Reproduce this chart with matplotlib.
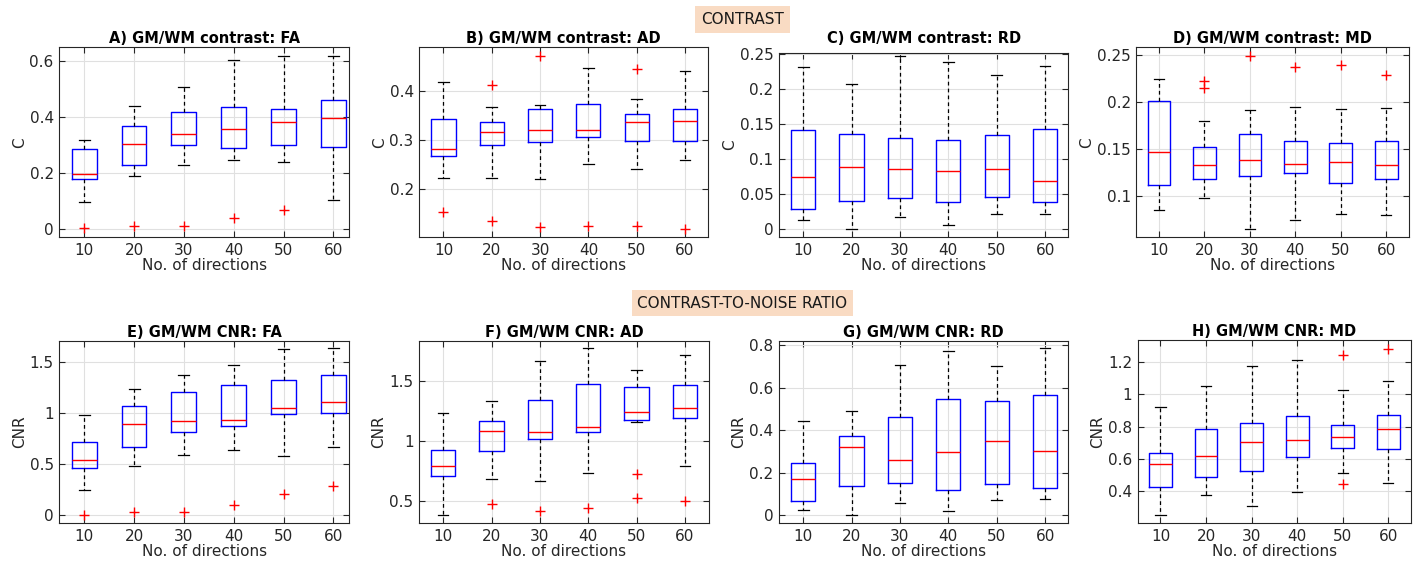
import matplotlib
matplotlib.use("Agg")
import matplotlib.pyplot as plt

plt.rcParams['font.family'] = ['DejaVu Sans']

directions = [10, 20, 30, 40, 50, 60]
xtick_labels = ['10', '20', '30', '40', '50', '60']

# ---- Panel data: lower whisker, q1, median, q3, upper whisker, outliers ----
A_lo  = [0.095, 0.190, 0.228, 0.245, 0.238, 0.103]
A_q1  = [0.179, 0.230, 0.300, 0.288, 0.300, 0.291]
A_med = [0.197, 0.302, 0.338, 0.357, 0.383, 0.395]
A_q3  = [0.285, 0.367, 0.416, 0.435, 0.428, 0.459]
A_hi  = [0.318, 0.440, 0.508, 0.605, 0.617, 0.617]
A_out = [[0.002], [0.010], [0.012], [0.038], [0.068], []]

B_lo  = [0.221, 0.222, 0.220, 0.251, 0.241, 0.258]
B_q1  = [0.266, 0.290, 0.295, 0.306, 0.297, 0.298]
B_med = [0.281, 0.317, 0.321, 0.320, 0.336, 0.338]
B_q3  = [0.342, 0.336, 0.363, 0.373, 0.353, 0.363]
B_hi  = [0.418, 0.367, 0.371, 0.447, 0.384, 0.441]
B_out = [[0.151], [0.413, 0.134], [0.473, 0.121], [0.124], [0.445, 0.124], [0.118]]

C_lo  = [0.0133, 0.0010, 0.0176, 0.0057, 0.0214, 0.0224]
C_q1  = [0.0295, 0.0400, 0.0448, 0.0386, 0.0467, 0.0390]
C_med = [0.0752, 0.0886, 0.0867, 0.0838, 0.0857, 0.0686]
C_q3  = [0.1414, 0.1367, 0.1310, 0.1276, 0.1352, 0.1438]
C_hi  = [0.2324, 0.2076, 0.2476, 0.2386, 0.2200, 0.2338]
C_out = [[], [], [], [], [], []]

D_lo  = [0.0858, 0.0979, 0.0656, 0.0748, 0.0812, 0.0801]
D_q1  = [0.1117, 0.1181, 0.1213, 0.1245, 0.1142, 0.1184]
D_med = [0.1468, 0.1333, 0.1390, 0.1344, 0.1365, 0.1330]
D_q3  = [0.2018, 0.1528, 0.1667, 0.1589, 0.1571, 0.1592]
D_hi  = [0.2252, 0.1801, 0.1918, 0.1950, 0.1929, 0.1936]
D_out = [[], [0.2223, 0.2149], [0.2493], [0.2376], [0.2394], [0.2291]]

E_lo  = [0.249, 0.485, 0.590, 0.639, 0.580, 0.668]
E_q1  = [0.459, 0.671, 0.812, 0.871, 0.993, 1.006]
E_med = [0.537, 0.894, 0.924, 0.930, 1.055, 1.107]
E_q3  = [0.721, 1.067, 1.208, 1.281, 1.330, 1.379]
E_hi  = [0.983, 1.235, 1.379, 1.474, 1.628, 1.638]
E_out = [[0.003], [0.030], [0.030], [0.100], [0.203], [0.282]]

F_lo  = [0.390, 0.682, 0.666, 0.732, 1.160, 0.793]
F_q1  = [0.707, 0.917, 1.014, 1.075, 1.174, 1.188]
F_med = [0.790, 1.080, 1.075, 1.119, 1.238, 1.271]
F_q3  = [0.923, 1.166, 1.343, 1.475, 1.445, 1.467]
F_hi  = [1.232, 1.329, 1.660, 1.768, 1.591, 1.713]
F_out = [[], [0.475], [0.417], [0.448], [0.724, 0.525], [0.503]]

G_lo  = [0.023, 0.003, 0.058, 0.019, 0.074, 0.077]
G_q1  = [0.069, 0.138, 0.150, 0.117, 0.146, 0.130]
G_med = [0.169, 0.319, 0.261, 0.297, 0.348, 0.304]
G_q3  = [0.246, 0.375, 0.463, 0.545, 0.539, 0.564]
G_hi  = [0.445, 0.490, 0.708, 0.772, 0.700, 0.784]
G_out = [[], [], [], [], [], []]

H_lo  = [0.256, 0.375, 0.307, 0.398, 0.511, 0.449]
H_q1  = [0.425, 0.491, 0.528, 0.612, 0.670, 0.660]
H_med = [0.567, 0.621, 0.707, 0.715, 0.736, 0.784]
H_q3  = [0.639, 0.783, 0.821, 0.864, 0.810, 0.875]
H_hi  = [0.924, 1.052, 1.175, 1.214, 1.025, 1.085]
H_out = [[], [], [], [], [1.241, 0.447], [1.282]]

titles = ['A) GM/WM contrast: FA', 'B) GM/WM contrast: AD',
          'C) GM/WM contrast: RD', 'D) GM/WM contrast: MD',
          'E) GM/WM CNR: FA', 'F) GM/WM CNR: AD',
          'G) GM/WM CNR: RD', 'H) GM/WM CNR: MD']
ylabels = ['C', 'C', 'C', 'C', 'CNR', 'CNR', 'CNR', 'CNR']

A_ticks = [0, 0.2, 0.4, 0.6];           A_tlab = ['0', '0.2', '0.4', '0.6']
B_ticks = [0.2, 0.3, 0.4];              B_tlab = ['0.2', '0.3', '0.4']
C_ticks = [0, 0.05, 0.1, 0.15, 0.2, 0.25]; C_tlab = ['0', '0.05', '0.1', '0.15', '0.2', '0.25']
D_ticks = [0.1, 0.15, 0.2, 0.25];       D_tlab = ['0.1', '0.15', '0.2', '0.25']
E_ticks = [0, 0.5, 1, 1.5];             E_tlab = ['0', '0.5', '1', '1.5']
F_ticks = [0.5, 1, 1.5];                F_tlab = ['0.5', '1', '1.5']
G_ticks = [0, 0.2, 0.4, 0.6, 0.8];      G_tlab = ['0', '0.2', '0.4', '0.6', '0.8']
H_ticks = [0.4, 0.6, 0.8, 1, 1.2];      H_tlab = ['0.4', '0.6', '0.8', '1', '1.2']

panels = [
    (A_lo, A_q1, A_med, A_q3, A_hi, A_out, A_ticks, A_tlab),
    (B_lo, B_q1, B_med, B_q3, B_hi, B_out, B_ticks, B_tlab),
    (C_lo, C_q1, C_med, C_q3, C_hi, C_out, C_ticks, C_tlab),
    (D_lo, D_q1, D_med, D_q3, D_hi, D_out, D_ticks, D_tlab),
    (E_lo, E_q1, E_med, E_q3, E_hi, E_out, E_ticks, E_tlab),
    (F_lo, F_q1, F_med, F_q3, F_hi, F_out, F_ticks, F_tlab),
    (G_lo, G_q1, G_med, G_q3, G_hi, G_out, G_ticks, G_tlab),
    (H_lo, H_q1, H_med, H_q3, H_hi, H_out, H_ticks, H_tlab),
]

# layout (pixels: left, right, top, bottom) and axis limits
W, H = 1418, 565
boxes_px = [(59.3, 349.3, 47.3, 237.3), (419.3, 707.7, 47.3, 237.3),
            (779.0, 1068.3, 52.7, 237.3), (1136.3, 1409.0, 47.3, 237.3),
            (59.3, 349.3, 341.0, 523.0), (419.0, 709.0, 341.0, 523.0),
            (779.0, 1068.3, 341.0, 523.0), (1137.7, 1410.7, 340.3, 523.0)]
title_pads = [3, 3, 7, 3, 3, 3, 3, 3]
ylims = [(-0.030, 0.649), (0.100, 0.490), (-0.0114, 0.2524), (0.0564, 0.2585),
         (-0.079, 1.71), (0.32, 1.829), (-0.036, 0.819), (0.204, 1.334)]
xlims = [(0.5, 6.32), (0.5, 6.47), (0.5, 6.48), (0.5, 6.5),
         (0.5, 6.32), (0.5, 6.5), (0.5, 6.48), (0.5, 6.49)]

fig = plt.figure(figsize=(W / 100, H / 100), dpi=100)
frame_col = '#262626'

for i, (lo, q1, med, q3, hi, out, yt, ytl) in enumerate(panels):
    l, r, t, b = boxes_px[i]
    ax = fig.add_axes([l / W, 1 - b / H, (r - l) / W, (b - t) / H])
    stats = []
    for k in range(len(directions)):
        stats.append(dict(whislo=lo[k], q1=q1[k], med=med[k], q3=q3[k],
                          whishi=hi[k], fliers=out[k]))
    pos = list(range(1, len(directions) + 1))
    ax.bxp(stats, positions=pos, widths=0.5, capwidths=0.22, showfliers=True,
           boxprops=dict(color='#0000ff', linewidth=1.0),
           medianprops=dict(color='#ff0000', linewidth=1.0),
           whiskerprops=dict(color='black', linewidth=0.9, linestyle=(0, (3, 2.5))),
           capprops=dict(color='black', linewidth=0.9),
           flierprops=dict(marker='+', markeredgecolor='#ff0000', markersize=7,
                           markeredgewidth=1.0, linestyle='none'))
    ax.set_xlim(*xlims[i])
    ax.set_ylim(*ylims[i])
    ax.set_xticks(pos)
    ax.set_xticklabels(xtick_labels)
    ax.set_yticks(yt)
    ax.set_yticklabels(ytl)
    ax.grid(True, color='#e0e0e0', linewidth=0.8)
    ax.set_axisbelow(True)
    ax.tick_params(direction='in', length=4, width=0.8, colors=frame_col,
                   labelsize=11, top=True, right=True, pad=4)
    for sp in ax.spines.values():
        sp.set_color(frame_col)
        sp.set_linewidth(0.8)
    ax.set_title(titles[i], fontsize=10.5, fontweight='bold', pad=title_pads[i],
                 color='black')
    ax.set_xlabel('No. of directions', fontsize=11, labelpad=0, color=frame_col)
    ax.set_ylabel(ylabels[i], fontsize=11, labelpad=2, color=frame_col)

peach = '#f9dbc3'
fig.text(742.7 / W, 1 - 19.5 / H, 'CONTRAST', ha='center', va='center',
         fontsize=11, color='#1a1a1a',
         bbox=dict(boxstyle='square,pad=0.4', facecolor=peach, edgecolor='none'))
fig.text(742.5 / W, 1 - 303 / H, 'CONTRAST-TO-NOISE RATIO', ha='center', va='center',
         fontsize=11, color='#1a1a1a',
         bbox=dict(boxstyle='square,pad=0.35', facecolor=peach, edgecolor='none'))

fig.savefig('out.png', dpi=100, facecolor='white')
